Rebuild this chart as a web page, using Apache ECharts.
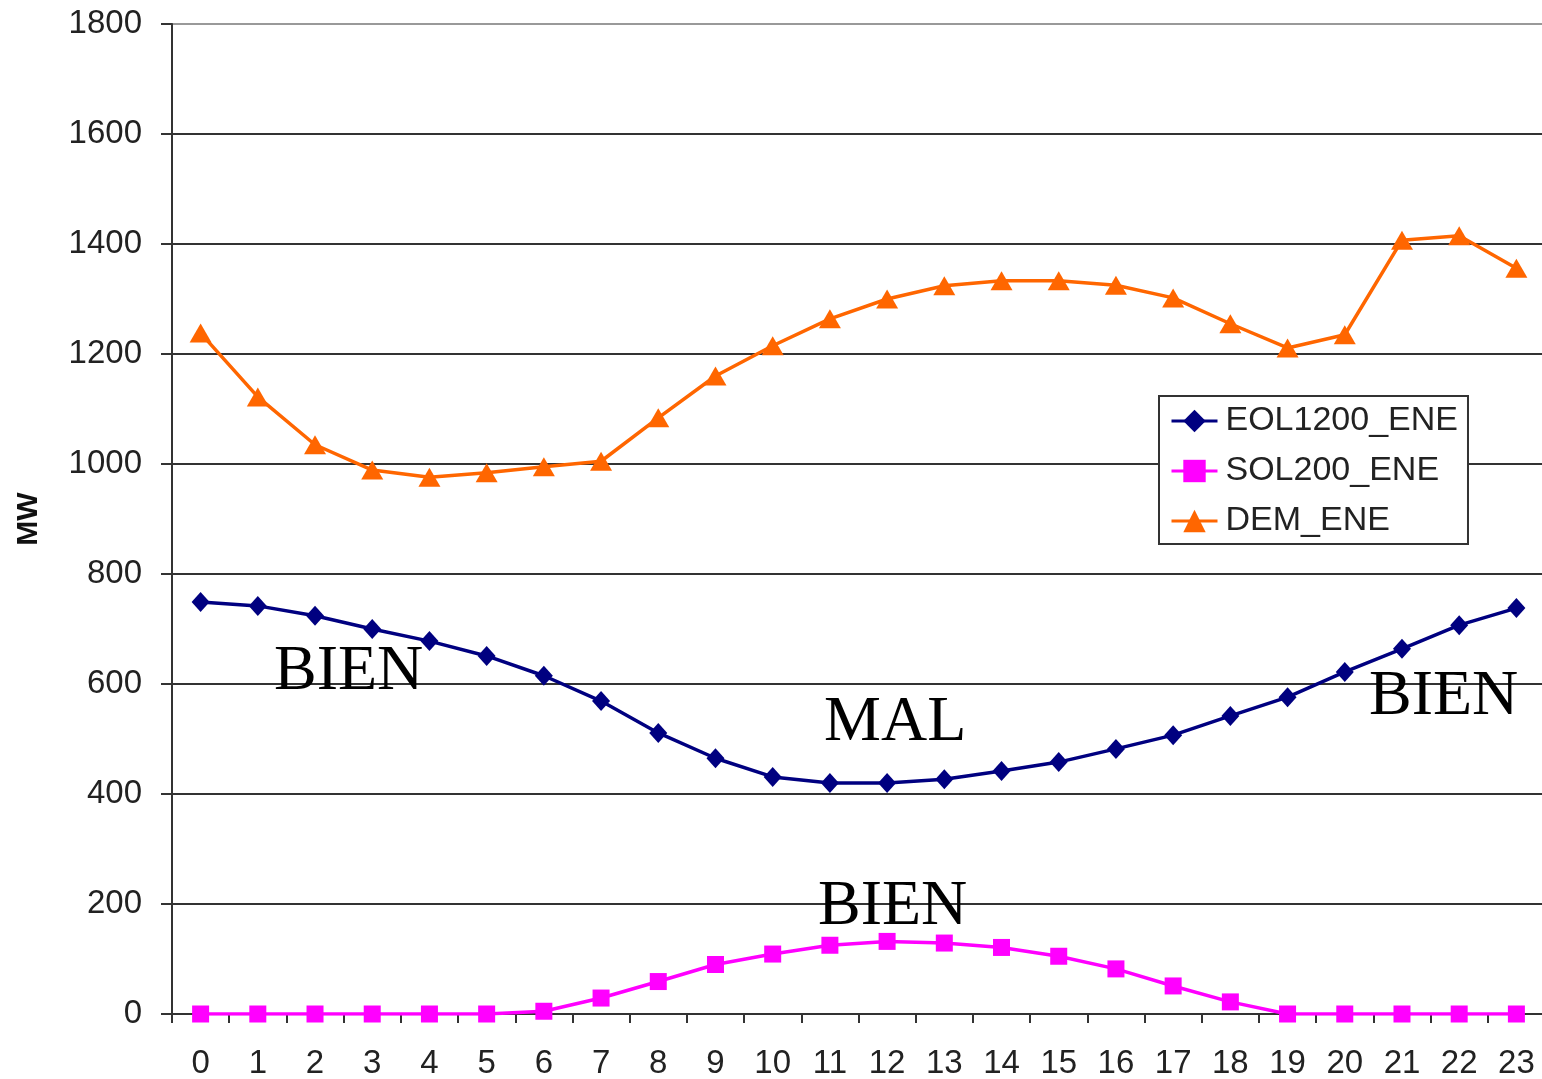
<!DOCTYPE html>
<html>
<head>
<meta charset="utf-8">
<title>EOL / SOL / DEM</title>
<script src="https://cdn.jsdelivr.net/npm/echarts@6/dist/echarts.min.js"></script>
<style>
  html, body { margin: 0; padding: 0; background: #fff; }
  #chart { width: 1542px; height: 1079px; }
</style>
</head>
<body>
<div id="chart"></div>
<script>
// Hours of the day
const hours = ['0','1','2','3','4','5','6','7','8','9','10','11','12','13','14','15','16','17','18','19','20','21','22','23'];

// Wind generation (MW)
const eol1200 = [749, 742, 724, 700, 678, 651, 615, 569, 511, 465, 431, 420, 420, 427, 442, 458, 482, 507, 542, 576, 622, 664, 707, 738];

// Solar generation (MW)
const sol200 = [0, 0, 0, 0, 0, 0, 5, 29, 59, 90, 109, 125, 132, 129, 121, 105, 82, 51, 22, 0, 0, 0, 0, 0];

// Demand (MW)
const demEne = [1238, 1122, 1035, 989, 976, 984, 995, 1005, 1084, 1160, 1215, 1264, 1300, 1324, 1333, 1333, 1325, 1302, 1255, 1211, 1235, 1407, 1415, 1356];

const yTicks = { min: 0, max: 1800, interval: 200 };

const sansFont = '"Liberation Sans", Arial, sans-serif';
const serifFont = '"Liberation Serif", "Times New Roman", serif';

const chart = echarts.init(document.getElementById('chart'), null, { renderer: 'canvas' });

function remark(text, x, y) {
  return {
    type: 'text',
    left: x,
    top: y,
    z: 100,
    style: { text: text, font: '64px ' + serifFont, fill: '#000' }
  };
}

chart.setOption({
  animation: false,
  backgroundColor: '#fff',
  grid: { left: 172, right: -3, top: 24, bottom: 65, containLabel: false, outerBoundsMode: 'none' },
  legend: {
    orient: 'vertical',
    left: 1159,
    top: 396,
    padding: [8, 10, 6, 11],
    backgroundColor: '#fff',
    borderColor: '#333',
    borderWidth: 2,
    borderRadius: 0,
    itemWidth: 46,
    itemHeight: 28,
    itemGap: 16,
    lineStyle: { width: 3 },
    textStyle: { fontFamily: sansFont, fontSize: 34, color: '#222', lineHeight: 34, padding: [0, 0, 0, 3] },
    data: ['EOL1200_ENE', 'SOL200_ENE', 'DEM_ENE']
  },
  xAxis: {
    type: 'category',
    data: hours,
    boundaryGap: true,
    axisLine: { lineStyle: { color: '#333', width: 2 } },
    axisTick: { show: true, length: 9, inside: false, lineStyle: { color: '#333', width: 2 } },
    axisLabel: { fontFamily: sansFont, fontSize: 33, color: '#222', margin: 33 },
    splitLine: { show: false }
  },
  yAxis: {
    type: 'value',
    min: yTicks.min,
    max: yTicks.max,
    interval: yTicks.interval,
    name: 'MW',
    nameLocation: 'middle',
    nameGap: 128,
    nameRotate: 90,
    nameTextStyle: { fontFamily: sansFont, fontSize: 30, fontWeight: 'bold', color: '#111' },
    axisLine: { show: true, lineStyle: { color: '#333', width: 2 } },
    axisTick: { show: true, length: 11, lineStyle: { color: '#333', width: 2 } },
    axisLabel: { fontFamily: sansFont, fontSize: 33, color: '#222', margin: 30, formatter: (v) => String(v) },
    splitLine: {
      show: true,
      lineStyle: {
        color: ['#333', '#333', '#333', '#333', '#333', '#333', '#333', '#333', '#333', '#999'],
        width: 2
      }
    }
  },
  series: [
    {
      name: 'EOL1200_ENE',
      type: 'line',
      data: eol1200,
      symbol: 'diamond',
      symbolSize: [18, 20],
      itemStyle: { color: '#000080' },
      lineStyle: { color: '#000080', width: 3.5 },
      z: 3
    },
    {
      name: 'SOL200_ENE',
      type: 'line',
      data: sol200,
      symbol: 'rect',
      symbolSize: 17,
      itemStyle: { color: '#FF00FF' },
      lineStyle: { color: '#FF00FF', width: 3.5 },
      z: 3
    },
    {
      name: 'DEM_ENE',
      type: 'line',
      data: demEne,
      symbol: 'triangle',
      symbolSize: [22, 19],
      itemStyle: { color: '#FF6600' },
      lineStyle: { color: '#FF6600', width: 3.5 },
      z: 3
    }
  ],
  graphic: [
    remark('BIEN', 274, 640),
    remark('MAL', 824, 691),
    remark('BIEN', 1369, 665),
    remark('BIEN', 818, 875)
  ]
});
</script>
</body>
</html>
